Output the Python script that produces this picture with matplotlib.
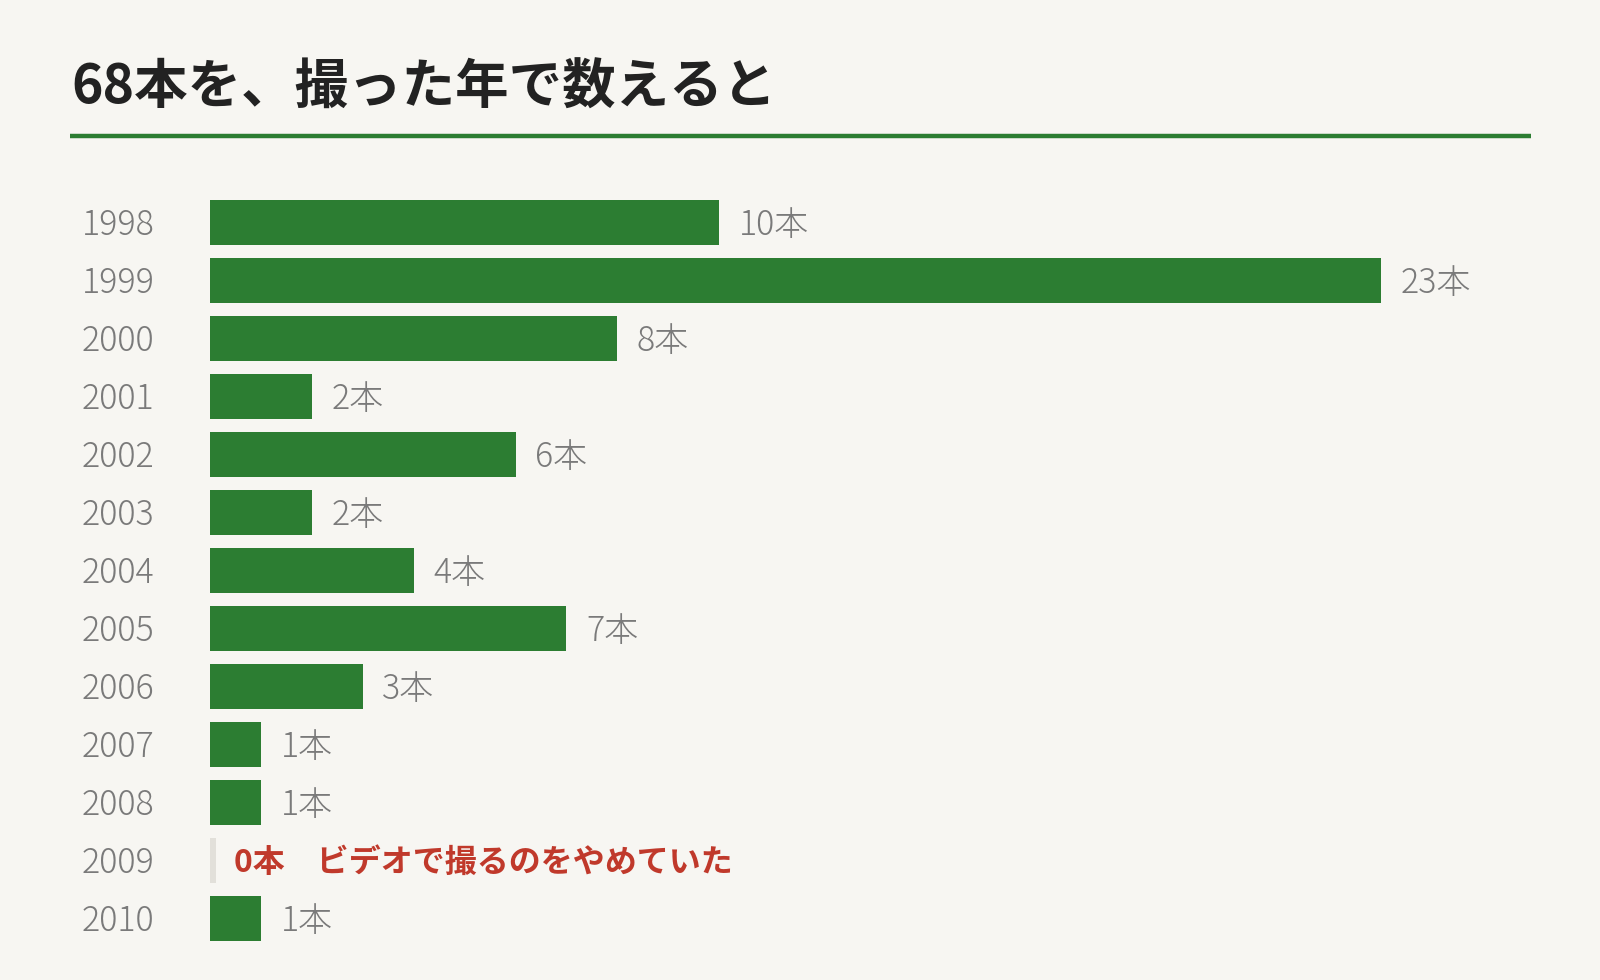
import matplotlib
matplotlib.use("Agg")
import matplotlib.pyplot as plt
import matplotlib.transforms as mtransforms

plt.rcParams['font.family'] = ['Noto Sans CJK JP', 'DejaVu Sans']

# data
years = ["1998", "1999", "2000", "2001", "2002", "2003", "2004",
         "2005", "2006", "2007", "2008", "2009", "2010"]
counts = [10, 23, 8, 2, 6, 2, 4, 7, 3, 1, 1, 0, 1]
title = "68本を、撮った年で数えると"
unit = "本"
zero_note = "ビデオで撮るのをやめていた"

bg = "#f7f6f2"
green = "#2c7d32"
grey_text = "#7a7a7a"
red = "#c0392b"

fig = plt.figure(figsize=(16, 9.8), dpi=100, facecolor=bg)

# title + green rule
fig.text(71 / 1600, 1 - 104 / 980, title, fontsize=38.5, fontweight="bold",
         color="#222222", ha="left", va="baseline")
fig.add_artist(plt.Line2D([69.5 / 1600, 1530.5 / 1600], [1 - 136 / 980, 1 - 136 / 980],
                          color=green, linewidth=3.2, solid_capstyle="butt",
                          transform=fig.transFigure))

ax = fig.add_axes([210.2 / 1600, 0.0333, 0.827, 0.7694])
ax.set_facecolor(bg)
ypos = list(range(len(years)))

for y, c in zip(ypos, counts):
    if c > 0:
        ax.barh(y, c, height=0.774, color=green)
        ax.annotate(f"{c}{unit}", (c, y), xytext=(14, -2), textcoords="offset points",
                    ha="left", va="center", fontsize=24.5, color=grey_text,
                    fontweight="light")
    else:
        # empty year: thin grey stub and red note
        ax.barh(y, 0.12, height=0.774, color="#e2e0da")
        ax.annotate(f"{c}{unit}\u3000{zero_note}", (0, y), xytext=(17, -1.5),
                    textcoords="offset points", ha="left", va="center",
                    fontsize=23, color=red, fontweight="bold")

# year labels
trans = mtransforms.blended_transform_factory(fig.transFigure, ax.transData)
for y, yr in zip(ypos, years):
    ax.annotate(yr, (81.6 / 1600, y), xycoords=trans, xytext=(0, -2),
                textcoords="offset points", ha="left", va="center",
                fontsize=24.5, color=grey_text, fontweight="light")

ax.set_xlim(0, 26)
ax.set_ylim(len(years) - 0.5, -0.5)
ax.axis("off")

fig.savefig("out.png", dpi=100, facecolor=bg)
